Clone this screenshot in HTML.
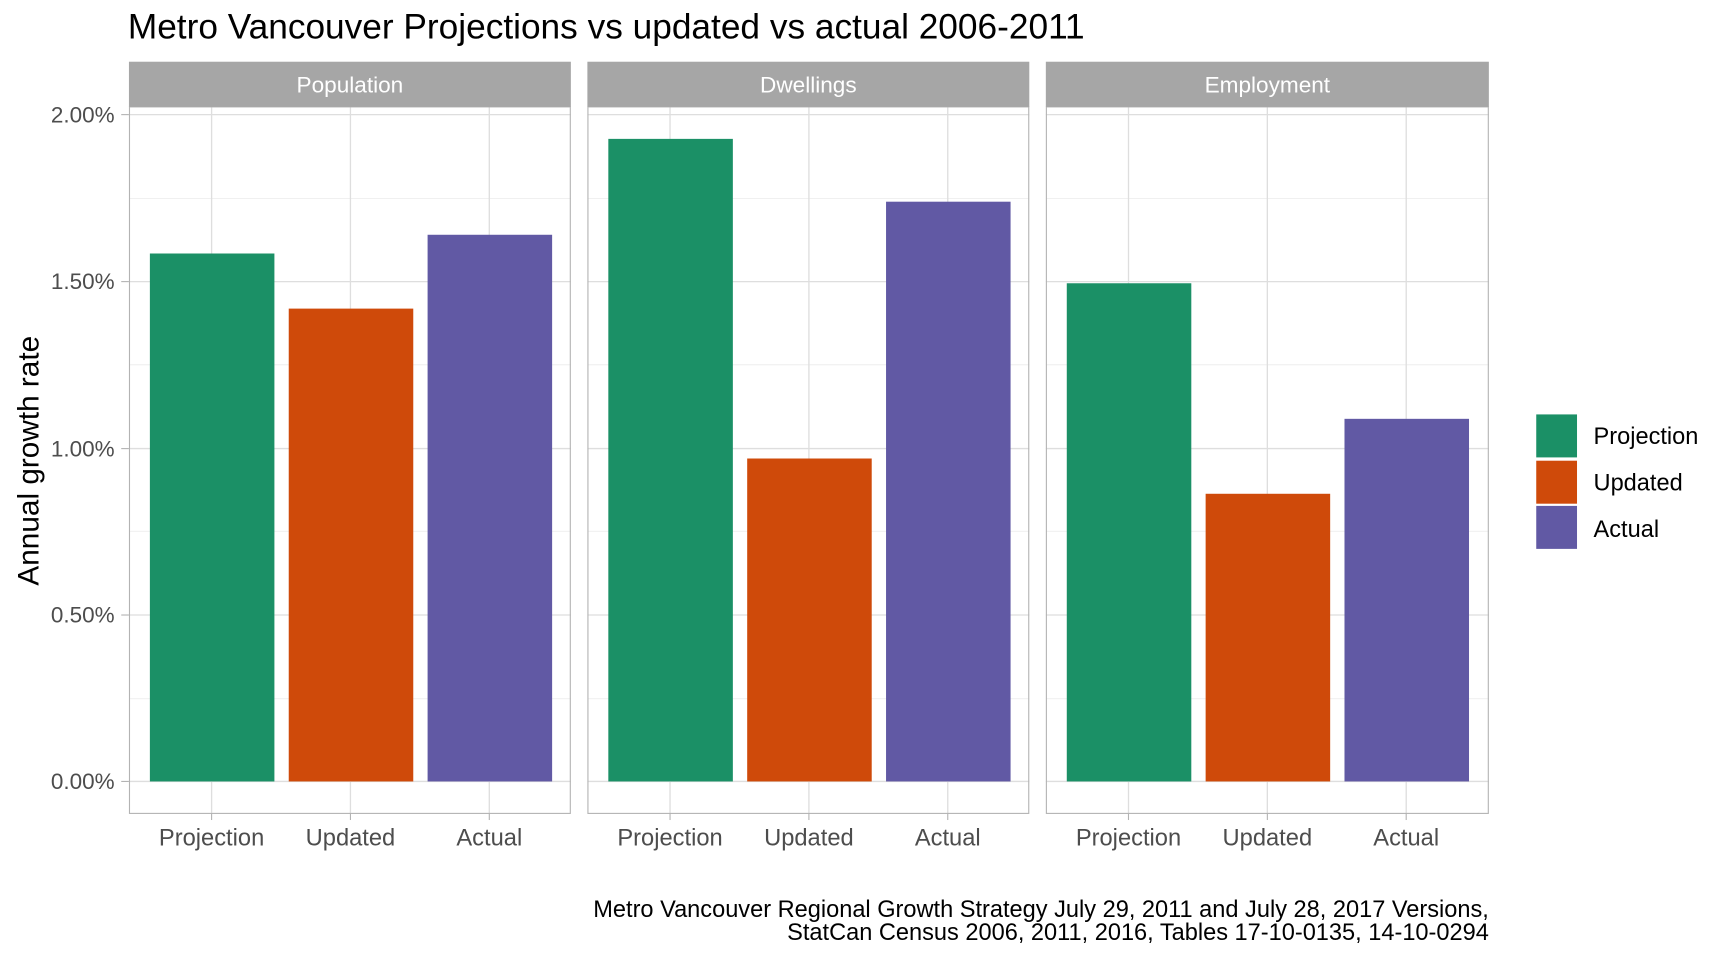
<!DOCTYPE html>
<html><head><meta charset="utf-8"><style>html,body{margin:0;padding:0;background:#fff}svg{display:block}text{font-family:"Liberation Sans",Arial,sans-serif}</style></head>
<body>
<svg width="1728" height="960" viewBox="0 0 1568 871" preserveAspectRatio="none" xmlns="http://www.w3.org/2000/svg">
<rect width="1568" height="871" fill="#fff"/>
<text x="116" y="35" font-size="32" fill="#000">Metro Vancouver Projections vs updated vs actual 2006-2011</text>
<g font-size="20.4" fill="#4d4d4d" text-anchor="end">
<text x="104" y="111">2.00%</text>
<text x="104" y="262">1.50%</text>
<text x="104" y="414">1.00%</text>
<text x="104" y="565">0.50%</text>
<text x="104" y="716">0.00%</text>
</g>
<g stroke="#b3b3b3" stroke-width="1">
<line x1="110" x2="117" y1="104" y2="104"/><line x1="110" x2="117" y1="255.5" y2="255.5"/><line x1="110" x2="117" y1="407" y2="407"/><line x1="110" x2="117" y1="558" y2="558"/><line x1="110" x2="117" y1="709" y2="709"/>
</g>
<text transform="translate(35,418) rotate(-90)" font-size="27" text-anchor="middle" fill="#000">Annual growth rate</text>

<g transform="translate(117,0)">
<g stroke="#ebebeb" stroke-width="0.7"><line x1="0" x2="401" y1="180" y2="180"/><line x1="0" x2="401" y1="331" y2="331"/><line x1="0" x2="401" y1="482" y2="482"/><line x1="0" x2="401" y1="634" y2="634"/></g>
<g stroke="#dedede" stroke-width="1.2"><line x1="0" x2="401" y1="104" y2="104"/><line x1="0" x2="401" y1="255.5" y2="255.5"/><line x1="0" x2="401" y1="407" y2="407"/><line x1="0" x2="401" y1="558" y2="558"/><line x1="0" x2="401" y1="709" y2="709"/>
<line x1="75" x2="75" y1="97" y2="738"/><line x1="201" x2="201" y1="97" y2="738"/><line x1="327" x2="327" y1="97" y2="738"/></g>
<rect x="19" y="230" width="113" height="479" fill="#1b9066"/>
<rect x="145" y="280" width="113" height="429" fill="#cf4a0a"/>
<rect x="271" y="213" width="113" height="496" fill="#6159a4"/>
<rect x="0.5" y="97" width="400" height="641" fill="none" stroke="#b3b3b3"/>
<rect x="0" y="56" width="401" height="41" fill="#a6a6a6"/>
<text x="200.5" y="84" font-size="20.5" fill="#fff" text-anchor="middle">Population</text>
<g stroke="#b3b3b3"><line x1="75" x2="75" y1="738" y2="744"/><line x1="201" x2="201" y1="738" y2="744"/><line x1="327" x2="327" y1="738" y2="744"/></g>
<g font-size="21.5" fill="#4d4d4d" text-anchor="middle"><text x="75" y="767">Projection</text><text x="201" y="767">Updated</text><text x="327" y="767">Actual</text></g>
</g>

<g transform="translate(533,0)">
<g stroke="#ebebeb" stroke-width="0.7"><line x1="0" x2="401" y1="180" y2="180"/><line x1="0" x2="401" y1="331" y2="331"/><line x1="0" x2="401" y1="482" y2="482"/><line x1="0" x2="401" y1="634" y2="634"/></g>
<g stroke="#dedede" stroke-width="1.2"><line x1="0" x2="401" y1="104" y2="104"/><line x1="0" x2="401" y1="255.5" y2="255.5"/><line x1="0" x2="401" y1="407" y2="407"/><line x1="0" x2="401" y1="558" y2="558"/><line x1="0" x2="401" y1="709" y2="709"/>
<line x1="75" x2="75" y1="97" y2="738"/><line x1="201" x2="201" y1="97" y2="738"/><line x1="327" x2="327" y1="97" y2="738"/></g>
<rect x="19" y="126" width="113" height="583" fill="#1b9066"/>
<rect x="145" y="416" width="113" height="293" fill="#cf4a0a"/>
<rect x="271" y="183" width="113" height="526" fill="#6159a4"/>
<rect x="0.5" y="97" width="400" height="641" fill="none" stroke="#b3b3b3"/>
<rect x="0" y="56" width="401" height="41" fill="#a6a6a6"/>
<text x="200.5" y="84" font-size="20.5" fill="#fff" text-anchor="middle">Dwellings</text>
<g stroke="#b3b3b3"><line x1="75" x2="75" y1="738" y2="744"/><line x1="201" x2="201" y1="738" y2="744"/><line x1="327" x2="327" y1="738" y2="744"/></g>
<g font-size="21.5" fill="#4d4d4d" text-anchor="middle"><text x="75" y="767">Projection</text><text x="201" y="767">Updated</text><text x="327" y="767">Actual</text></g>
</g>

<g transform="translate(949,0)">
<g stroke="#ebebeb" stroke-width="0.7"><line x1="0" x2="402" y1="180" y2="180"/><line x1="0" x2="402" y1="331" y2="331"/><line x1="0" x2="402" y1="482" y2="482"/><line x1="0" x2="402" y1="634" y2="634"/></g>
<g stroke="#dedede" stroke-width="1.2"><line x1="0" x2="402" y1="104" y2="104"/><line x1="0" x2="402" y1="255.5" y2="255.5"/><line x1="0" x2="402" y1="407" y2="407"/><line x1="0" x2="402" y1="558" y2="558"/><line x1="0" x2="402" y1="709" y2="709"/>
<line x1="75" x2="75" y1="97" y2="738"/><line x1="201" x2="201" y1="97" y2="738"/><line x1="327" x2="327" y1="97" y2="738"/></g>
<rect x="19" y="257" width="113" height="452" fill="#1b9066"/>
<rect x="145" y="448" width="113" height="261" fill="#cf4a0a"/>
<rect x="271" y="380" width="113" height="329" fill="#6159a4"/>
<rect x="0.5" y="97" width="401" height="641" fill="none" stroke="#b3b3b3"/>
<rect x="0" y="56" width="402" height="41" fill="#a6a6a6"/>
<text x="201" y="84" font-size="20.5" fill="#fff" text-anchor="middle">Employment</text>
<g stroke="#b3b3b3"><line x1="75" x2="75" y1="738" y2="744"/><line x1="201" x2="201" y1="738" y2="744"/><line x1="327" x2="327" y1="738" y2="744"/></g>
<g font-size="21.5" fill="#4d4d4d" text-anchor="middle"><text x="75" y="767">Projection</text><text x="201" y="767">Updated</text><text x="327" y="767">Actual</text></g>
</g>

<rect x="1394" y="376" width="37" height="39" fill="#1b9066"/>
<rect x="1394" y="418" width="37" height="39" fill="#cf4a0a"/>
<rect x="1394" y="459" width="37" height="39" fill="#6159a4"/>
<g font-size="21.4" fill="#000"><text x="1446" y="403">Projection</text><text x="1446" y="445">Updated</text><text x="1446" y="487">Actual</text></g>

<g font-size="21.4" fill="#000" text-anchor="end"><text x="1351" y="832">Metro Vancouver Regional Growth Strategy July 29, 2011 and July 28, 2017 Versions,</text><text x="1351" y="853">StatCan Census 2006, 2011, 2016, Tables 17-10-0135, 14-10-0294</text></g>
</svg>
</body></html>
